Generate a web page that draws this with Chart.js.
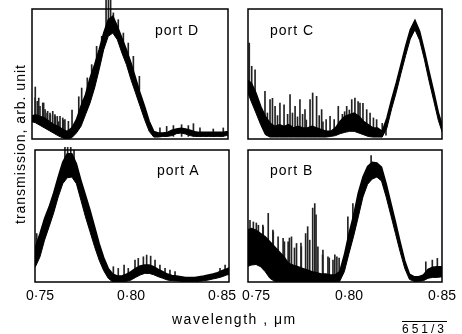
<!DOCTYPE html>
<html>
<head>
<meta charset="utf-8">
<script src="https://cdn.jsdelivr.net/npm/chart.js"></script>
<style>
  html, body { margin: 0; padding: 0; background: #fff; }
  #wrap { position: relative; width: 462px; height: 334px; overflow: hidden; font-family: "Liberation Sans", Arial, sans-serif; color: #000; }
  #wrap canvas { position: absolute; left: 0; top: 0; }
  .lbl { position: absolute; white-space: nowrap; font-size: 14px; line-height: 1; letter-spacing: 1px; }
</style>
</head>
<body>
<div id="wrap">
  <canvas id="portD" width="462" height="334"></canvas>
  <canvas id="portC" width="462" height="334"></canvas>
  <canvas id="portA" width="462" height="334"></canvas>
  <canvas id="portB" width="462" height="334"></canvas>
  <div class="lbl" style="left:155px; top:23px">port D</div>
  <div class="lbl" style="left:270px; top:23px">port C</div>
  <div class="lbl" style="left:157px; top:163px">port A</div>
  <div class="lbl" style="left:270px; top:163px">port B</div>
  <div class="lbl" style="left:20px; top:144px; transform: translate(-50%, -50%) rotate(-90deg);">transmission, arb. unit</div>
  <div class="lbl" style="left:172px; top:312px; letter-spacing:1.5px;">wavelength , μm</div>
  <div class="lbl" style="left:402px; top:321px; font-size:12px; letter-spacing:3px; border-top:1px solid #000; padding-top:1px;">651/3</div>
</div>
<script>
// wavelength grid (um), shared by all four ports
const wavelength = [0.745, 0.7475, 0.75, 0.7525, 0.755, 0.7575, 0.76, 0.7625, 0.765, 0.7675,
  0.77, 0.7725, 0.775, 0.7775, 0.78, 0.7825, 0.785, 0.7875, 0.79, 0.7925,
  0.795, 0.7975, 0.8, 0.8025, 0.805, 0.8075, 0.81, 0.8125, 0.815, 0.8175,
  0.82, 0.8225, 0.825, 0.8275, 0.83, 0.8325, 0.835, 0.8375, 0.84, 0.8425,
  0.845, 0.8475, 0.85, 0.8525, 0.855];
const tickValues = [0.75, 0.80, 0.85];

// each trace is a noisy band: lower and upper edge (arb. units, 0..1) + spikes [wl, from, to]
const portDLow = [0.135, 0.125, 0.105, 0.085, 0.065, 0.045, 0.025, 0.008, 0, 0.010,
  0.046, 0.097, 0.187, 0.277, 0.392, 0.533, 0.687, 0.790, 0.815, 0.764,
  0.662, 0.572, 0.456, 0.354, 0.251, 0.149, 0.059, 0.015, 0.015, 0.02,
  0.02, 0.026, 0.041, 0.046, 0.038, 0.026, 0.02, 0.02, 0.02, 0.02,
  0.02, 0.02, 0.02, 0.026, 0.026];
const portDHigh = [0.174, 0.187, 0.174, 0.162, 0.136, 0.110, 0.097, 0.072, 0.059, 0.085,
  0.149, 0.251, 0.341, 0.469, 0.572, 0.687, 0.815, 0.918, 0.944, 0.867,
  0.777, 0.687, 0.585, 0.469, 0.354, 0.251, 0.136, 0.059, 0.046, 0.046,
  0.051, 0.067, 0.077, 0.082, 0.077, 0.067, 0.056, 0.051, 0.051, 0.051,
  0.051, 0.051, 0.051, 0.056, 0.056];
const portDSpikes = [[0.7473, 0.15, 0.315], [0.7474, 0.15, 0.40], [0.7485, 0.15, 0.29], [0.7493, 0.15, 0.315],
  [0.75, 0.15, 0.251], [0.7515, 0.14, 0.277], [0.752, 0.13, 0.277], [0.7528, 0.13, 0.226], [0.7539, 0.12, 0.2],
  [0.7542, 0.12, 0.213], [0.7555, 0.1, 0.2], [0.7557, 0.1, 0.185], [0.757, 0.08, 0.213], [0.7582, 0.07, 0.187],
  [0.7584, 0.07, 0.172], [0.7595, 0.06, 0.174], [0.7603, 0.05, 0.133], [0.761, 0.05, 0.174], [0.7625, 0.04, 0.162],
  [0.763, 0.03, 0.146], [0.7637, 0.03, 0.149], [0.7656, 0.03, 0.136], [0.7676, 0.03, 0.223], [0.7713, 0.2, 0.325],
  [0.7729, 0.25, 0.392], [0.7731, 0.2, 0.3], [0.776, 0.33, 0.47], [0.7784, 0.42, 0.572], [0.7811, 0.6, 0.713],
  [0.7839, 0.75, 0.79], [0.7863, 0.85, 1.07], [0.7876, 0.85, 1.07], [0.7888, 0.85, 1.07], [0.7903, 0.85, 0.97],
  [0.793, 0.85, 0.918], [0.7958, 0.72, 0.815], [0.7985, 0.65, 0.738], [0.8013, 0.52, 0.636], [0.8046, 0.38, 0.482],
  [0.8159, 0.02, 0.085], [0.8196, 0.02, 0.097], [0.8233, 0.02, 0.103], [0.8278, 0.02, 0.11], [0.8315, 0.02, 0.103],
  [0.8343, 0.02, 0.118], [0.8379, 0.02, 0.085], [0.8452, 0.02, 0.077], [0.8507, 0.02, 0.085]];

const portCLow = [0.379, 0.287, 0.200, 0.110, 0.033, 0.015, 0.015, 0.015, 0.015, 0.015,
  0.015, 0.015, 0.015, 0.015, 0.015, 0.015, 0.015, 0.015, 0.02, 0.026,
  0.041, 0.051, 0.059, 0.059, 0.046, 0.033, 0.02, 0.015, 0.015, 0.015,
  0.085, 0.231, 0.359, 0.503, 0.641, 0.769, 0.841, 0.759, 0.615, 0.449,
  0.297, 0.144, 0.033, 0, 0];
const portCHigh = [0.456, 0.431, 0.354, 0.251, 0.174, 0.123, 0.097, 0.110, 0.097, 0.110,
  0.085, 0.097, 0.085, 0.085, 0.097, 0.085, 0.072, 0.059, 0.059, 0.085,
  0.136, 0.174, 0.187, 0.200, 0.174, 0.136, 0.110, 0.085, 0.085, 0.059,
  0.162, 0.303, 0.431, 0.572, 0.713, 0.841, 0.913, 0.828, 0.682, 0.521,
  0.367, 0.205, 0.085, 0.02, 0.02];
const portCSpikes = [[0.7464, 0.4, 0.738], [0.7477, 0.4, 0.559], [0.7495, 0.35, 0.533], [0.7548, 0.1, 0.367],
  [0.7561, 0.08, 0.2], [0.7575, 0.08, 0.303], [0.7588, 0.05, 0.313], [0.7602, 0.05, 0.251], [0.7615, 0.05, 0.18],
  [0.7628, 0.05, 0.277], [0.765, 0.05, 0.262], [0.7669, 0.05, 0.19], [0.7682, 0.05, 0.341], [0.7695, 0.05, 0.2],
  [0.7709, 0.05, 0.251], [0.7722, 0.05, 0.17], [0.7735, 0.05, 0.303], [0.7749, 0.05, 0.19], [0.7762, 0.05, 0.226],
  [0.7769, 0.05, 0.146], [0.7789, 0.05, 0.303], [0.7803, 0.05, 0.354], [0.7824, 0.05, 0.328], [0.7838, 0.05, 0.18],
  [0.7851, 0.05, 0.226], [0.7858, 0.05, 0.133], [0.7875, 0.05, 0.15], [0.7896, 0.05, 0.174], [0.7918, 0.05, 0.15],
  [0.794, 0.1, 0.251], [0.7962, 0.1, 0.19], [0.7974, 0.1, 0.21], [0.7985, 0.1, 0.251], [0.7999, 0.1, 0.223],
  [0.8012, 0.1, 0.303], [0.8029, 0.1, 0.315], [0.8046, 0.1, 0.287], [0.8056, 0.1, 0.277], [0.8072, 0.1, 0.274],
  [0.8092, 0.05, 0.226], [0.811, 0.05, 0.2], [0.8128, 0.05, 0.162], [0.8145, 0.05, 0.149], [0.8175, 0.03, 0.12],
  [0.8195, 0.03, 0.11]];

const portALow = [0.091, 0.116, 0.191, 0.317, 0.418, 0.523, 0.644, 0.745, 0.790, 0.795,
  0.745, 0.619, 0.493, 0.380, 0.267, 0.166, 0.086, 0.028, 0, 0,
  0, 0.005, 0.015, 0.035, 0.053, 0.065, 0.065, 0.055, 0.040, 0.028,
  0.015, 0.010, 0.008, 0.005, 0.003, 0.003, 0.003, 0.005, 0.010, 0.015,
  0.023, 0.030, 0.040, 0.053, 0.060];
const portAHigh = [0.229, 0.267, 0.367, 0.481, 0.569, 0.674, 0.795, 0.908, 0.971, 0.971,
  0.896, 0.770, 0.657, 0.543, 0.418, 0.292, 0.186, 0.103, 0.060, 0.045,
  0.045, 0.060, 0.078, 0.103, 0.121, 0.128, 0.128, 0.116, 0.096, 0.078,
  0.060, 0.050, 0.045, 0.040, 0.035, 0.035, 0.035, 0.040, 0.045, 0.053,
  0.060, 0.070, 0.086, 0.098, 0.111];
const portASpikes = [[0.7482, 0.25, 0.367], [0.7637, 0.85, 1.02], [0.7652, 0.85, 1.02], [0.7669, 0.85, 1.02],
  [0.7687, 0.8, 1.0], [0.7903, 0.04, 0.116], [0.793, 0.04, 0.103], [0.7962, 0.05, 0.128], [0.7985, 0.05, 0.103],
  [0.8022, 0.08, 0.166], [0.804, 0.1, 0.179], [0.8068, 0.1, 0.191], [0.8086, 0.1, 0.204], [0.8108, 0.1, 0.196],
  [0.8132, 0.1, 0.166], [0.8159, 0.08, 0.128], [0.8187, 0.06, 0.103], [0.8214, 0.04, 0.091], [0.8242, 0.03, 0.078],
  [0.8489, 0.05, 0.103], [0.8517, 0.06, 0.128]];

const portBLow = [0.116, 0.128, 0.133, 0.116, 0.078, 0.028, 0.005, 0, 0, 0,
  0, 0, 0, 0, 0, 0, 0, 0, 0, 0,
  0.005, 0.078, 0.216, 0.347, 0.493, 0.644, 0.740, 0.780, 0.795, 0.765,
  0.644, 0.506, 0.367, 0.229, 0.103, 0.020, 0.005, 0.005, 0.010, 0.028,
  0.035, 0.035, 0.040, 0.040, 0.040];
const portBHigh = [0.392, 0.405, 0.392, 0.367, 0.342, 0.304, 0.267, 0.229, 0.191, 0.141,
  0.128, 0.116, 0.103, 0.091, 0.078, 0.070, 0.060, 0.060, 0.053, 0.053,
  0.078, 0.204, 0.367, 0.506, 0.674, 0.795, 0.875, 0.906, 0.901, 0.870,
  0.745, 0.599, 0.455, 0.304, 0.161, 0.060, 0.040, 0.040, 0.053, 0.096,
  0.111, 0.116, 0.116, 0.116, 0.116];
const portBSpikes = [[0.7468, 0.3, 0.468], [0.7486, 0.3, 0.455], [0.7502, 0.3, 0.447], [0.7513, 0.3, 0.430],
  [0.7537, 0.28, 0.432], [0.7539, 0.28, 0.418], [0.7566, 0.25, 0.52], [0.7591, 0.2, 0.394], [0.7593, 0.2, 0.380],
  [0.7619, 0.15, 0.342], [0.7646, 0.1, 0.330], [0.7653, 0.1, 0.305], [0.7673, 0.05, 0.304], [0.768, 0.05, 0.333],
  [0.7691, 0.05, 0.342], [0.7707, 0.05, 0.258], [0.7718, 0.05, 0.292], [0.7742, 0.05, 0.295], [0.7744, 0.05, 0.267],
  [0.7767, 0.05, 0.367], [0.7778, 0.05, 0.419], [0.7789, 0.05, 0.317], [0.7805, 0.05, 0.56], [0.7816, 0.03, 0.594],
  [0.7823, 0.03, 0.508], [0.7833, 0.03, 0.267], [0.7858, 0.03, 0.205], [0.786, 0.03, 0.242], [0.7887, 0.03, 0.191],
  [0.7894, 0.03, 0.182], [0.7914, 0.03, 0.166], [0.7924, 0.03, 0.205], [0.7935, 0.03, 0.191], [0.7947, 0.03, 0.182],
  [0.7994, 0.3, 0.493], [0.8021, 0.45, 0.594], [0.8119, 0.8, 0.958],
  [0.8413, 0.06, 0.153], [0.8448, 0.08, 0.166], [0.8475, 0.08, 0.179]];

// box round each panel
const framePlugin = {
  id: 'frame',
  afterDraw(chart) {
    const { ctx, chartArea: a } = chart;
    ctx.save();
    ctx.strokeStyle = '#000';
    ctx.lineWidth = 1.5;
    ctx.strokeRect(a.left, a.top, a.width, a.height);
    ctx.restore();
  }
};

function drawPanel(id, low, high, spikes, xMin, xMax, pad, showTicks, overTop) {
  const ink = '#000';
  new Chart(document.getElementById(id), {
    type: 'line',
    data: {
      datasets: [
        {
          data: wavelength.map((w, i) => ({ x: w, y: low[i] })),
          borderColor: ink, borderWidth: 1, pointRadius: 0, tension: 0, fill: false
        },
        {
          data: wavelength.map((w, i) => ({ x: w, y: high[i] })),
          borderColor: ink, borderWidth: 1.5, pointRadius: 0, tension: 0,
          fill: '-1', backgroundColor: ink
        },
        {
          type: 'bar',
          data: spikes.map(s => ({ x: s[0], y: [s[1], s[2]] })),
          backgroundColor: '#222', borderWidth: 0, barThickness: 1,
          clip: { left: 0, top: overTop, right: 0, bottom: 0 }
        }
      ]
    },
    options: {
      responsive: false,
      animation: false,
      events: [],
      layout: { padding: pad, autoPadding: false },
      plugins: { legend: { display: false }, tooltip: { enabled: false } },
      scales: {
        x: {
          type: 'linear', min: xMin, max: xMax, offset: false,
          display: showTicks,
          grid: { display: false, drawTicks: false, offset: false },
          border: { display: false },
          afterBuildTicks: s => { s.ticks = tickValues.map(v => ({ value: v })); },
          afterFit: s => { s.height = showTicks ? 30 : 0; },
          ticks: {
            color: ink, padding: 6, maxRotation: 0, autoSkip: false,
            font: { family: 'Liberation Sans', size: 14 },
            callback: v => v.toFixed(2).replace('.', '\u00b7')
          }
        },
        y: { min: 0, max: 1, display: false }
      }
    },
    plugins: [framePlugin]
  });
}

drawPanel('portD', portDLow, portDHigh, portDSpikes, 0.745604, 0.853297,
  { left: 32, top: 9, right: 234, bottom: 195 }, false, 9);
drawPanel('portC', portCLow, portCHigh, portCSpikes, 0.745722, 0.849465,
  { left: 248, top: 9, right: 20, bottom: 195 }, false, 0);
drawPanel('portA', portALow, portAHigh, portASpikes, 0.747253, 0.853846,
  { left: 35, top: 150, right: 233, bottom: 22 }, true, 3);
drawPanel('portB', portBLow, portBHigh, portBSpikes, 0.745722, 0.85,
  { left: 248, top: 150, right: 19, bottom: 22 }, true, 0);
</script>
</body>
</html>
